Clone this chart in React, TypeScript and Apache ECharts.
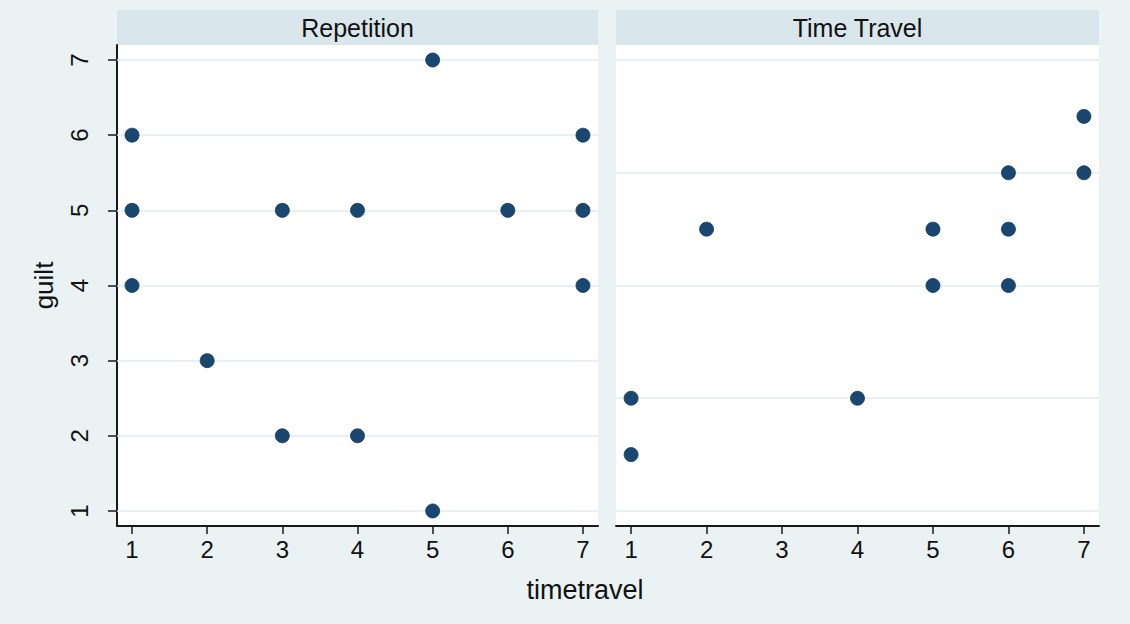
import React, { useEffect, useRef } from "react";
import * as echarts from "echarts";

const xTicks = [1, 2, 3, 4, 5, 6, 7];
const yTicks = [1, 2, 3, 4, 5, 6, 7];
const panelTitles = ["Repetition", "Time Travel"];
const xTitle = "timetravel";
const yTitle = "guilt";

const repetitionX = [1, 1, 1, 2, 3, 3, 4, 4, 5, 5, 6, 7, 7, 7];
const repetitionY = [6, 5, 4, 3, 5, 2, 5, 2, 7, 1, 5, 6, 5, 4];
const timeTravelX = [1, 1, 2, 4, 5, 5, 6, 6, 6, 7, 7];
const timeTravelY = [2.5, 1.75, 4.75, 2.5, 4.75, 4, 5.5, 4.75, 4, 6.25, 5.5];

const leftGridLines = [1, 2, 3, 4, 5, 6, 7];
const rightGridLines = [1, 2.5, 4, 5.5, 7];

const FONT = "'Liberation Sans', Arial, Helvetica, sans-serif";
const BG = "#EAF2F3";
const HEADER = "#D9E6EB";
const MARK = "#1A476F";
const GRIDLINE = "#E3ECEF";
const AXIS = "#1a1a1a";

export default function App() {
  const ref = useRef<HTMLDivElement>(null);

  useEffect(() => {
    if (!ref.current) return;
    const chart = echarts.init(ref.current, undefined, { renderer: "svg" });

    const grids = [
      { left: 117, top: 45, width: 481, height: 481 },
      { left: 616, top: 45, width: 483, height: 481 },
    ];

    const mkLine = (vals: number[]) => ({
      silent: true,
      symbol: ["none", "none"],
      label: { show: false },
      z: 1,
      lineStyle: { color: GRIDLINE, width: 1.5, type: "solid" },
      data: vals.map((v) => ({ yAxis: v })),
    });

    const pointStyle = {
      symbol: "circle",
      symbolSize: 14,
      itemStyle: { color: MARK, borderColor: "#12365A", borderWidth: 0.8, opacity: 1 },
      z: 3,
    };

    const option: any = {
      animation: false,
      backgroundColor: BG,
      grid: grids.map((g) => ({
        ...g,
        show: true,
        backgroundColor: "#ffffff",
        borderWidth: 0,
      })),
      xAxis: [0, 1].map((i) => ({
        type: "value",
        gridIndex: i,
        min: 0.8,
        max: 7.2,
        axisLine: { show: true, onZero: false, lineStyle: { color: AXIS, width: 2 } },
        axisTick: { show: true, length: 8, customValues: xTicks, lineStyle: { color: AXIS, width: 1.5 } },
        axisLabel: { customValues: xTicks, fontSize: 24, color: "#111", margin: 11, fontFamily: FONT },
        splitLine: { show: false },
      })),
      yAxis: [
        {
          type: "value",
          gridIndex: 0,
          min: 0.8,
          max: 7.2,
          axisLine: { show: true, onZero: false, lineStyle: { color: AXIS, width: 2 } },
          axisTick: { show: true, length: 9, customValues: yTicks, lineStyle: { color: AXIS, width: 1.5 } },
          axisLabel: { customValues: yTicks, rotate: 90, fontSize: 24, color: "#111", margin: 26, fontFamily: FONT },
          splitLine: { show: false },
          name: yTitle,
          nameLocation: "middle",
          nameRotate: 90,
          nameGap: 60,
          nameTextStyle: { fontSize: 26, color: "#111", fontFamily: FONT },
        },
        {
          type: "value",
          gridIndex: 1,
          min: 0.8,
          max: 7.2,
          axisLine: { show: false },
          axisTick: { show: false },
          axisLabel: { show: false },
          splitLine: { show: false },
        },
      ],
      series: [
        {
          type: "scatter",
          xAxisIndex: 0,
          yAxisIndex: 0,
          data: repetitionX.map((x, i) => [x, repetitionY[i]]),
          markLine: mkLine(leftGridLines),
          ...pointStyle,
        },
        {
          type: "scatter",
          xAxisIndex: 1,
          yAxisIndex: 1,
          data: timeTravelX.map((x, i) => [x, timeTravelY[i]]),
          markLine: mkLine(rightGridLines),
          ...pointStyle,
        },
      ],
      graphic: [
        ...grids.map((g, i) => ({
          type: "group",
          children: [
            {
              type: "rect",
              shape: { x: g.left, y: 10, width: g.width, height: 35 },
              style: { fill: HEADER },
            },
            {
              type: "text",
              x: g.left + g.width / 2,
              y: 27.5,
              style: {
                text: panelTitles[i],
                align: "center",
                verticalAlign: "middle",
                fontSize: 25,
                fontFamily: FONT,
                fill: "#111",
              },
            },
          ],
        })),
        {
          type: "text",
          x: 585,
          y: 590,
          style: {
            text: xTitle,
            align: "center",
            verticalAlign: "middle",
            fontSize: 27,
            fontFamily: FONT,
            fill: "#111",
          },
        },
      ],
    };

    chart.setOption(option);
    return () => chart.dispose();
  }, []);

  return (
    <div
      ref={ref}
      style={{ position: "absolute", left: 0, top: 0, width: 1130, height: 624 }}
    />
  );
}
